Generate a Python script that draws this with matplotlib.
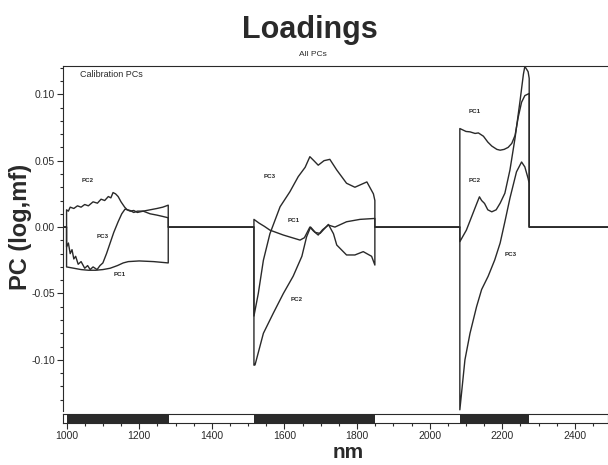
import matplotlib
matplotlib.use("Agg")
import matplotlib.pyplot as plt
from matplotlib.ticker import MultipleLocator, FormatStrFormatter

# loadings, (nm, value) per selected region
pc1_seg1 = [(1000, -0.030), (1020, -0.031), (1040, -0.032), (1060, -0.0325), (1080, -0.0325),
            (1100, -0.032), (1120, -0.031), (1140, -0.029), (1156, -0.027), (1170, -0.026),
            (1200, -0.0255), (1240, -0.026), (1280, -0.027)]
pc2_seg1 = [(1000, 0.013), (1005, 0.012), (1010, 0.015), (1020, 0.014), (1030, 0.016), (1040, 0.015),
            (1050, 0.017), (1060, 0.016), (1073, 0.019), (1085, 0.018), (1095, 0.021), (1105, 0.020),
            (1115, 0.023), (1122, 0.022), (1128, 0.026), (1135, 0.025), (1142, 0.023), (1150, 0.019),
            (1160, 0.015), (1167, 0.013), (1175, 0.012), (1185, 0.0125), (1195, 0.011), (1211, 0.012),
            (1230, 0.010), (1249, 0.009), (1265, 0.008), (1280, 0.007)]
pc3_seg1 = [(1000, -0.015), (1005, -0.012), (1010, -0.020), (1015, -0.017), (1020, -0.024),
            (1025, -0.022), (1032, -0.028), (1040, -0.026), (1050, -0.031), (1058, -0.029),
            (1065, -0.032), (1073, -0.030), (1084, -0.032), (1092, -0.029), (1100, -0.027),
            (1110, -0.020), (1120, -0.012), (1130, -0.004), (1142, 0.004), (1152, 0.010),
            (1161, 0.0135), (1168, 0.013), (1175, 0.0125), (1185, 0.011), (1195, 0.012),
            (1211, 0.012), (1230, 0.013), (1249, 0.014), (1265, 0.015), (1280, 0.0165)]

pc1_seg2 = [(1516, 0.0058), (1530, 0.003), (1545, 0.0005), (1560, -0.0023), (1597, -0.006),
            (1643, -0.0098), (1655, -0.008), (1661, -0.0048), (1670, 0.0), (1680, -0.003),
            (1693, -0.006), (1705, -0.002), (1721, 0.0015), (1739, 0.0), (1771, 0.004),
            (1808, 0.0058), (1849, 0.0065)]
pc2_seg2 = [(1516, -0.104), (1519, -0.1038), (1542, -0.080), (1569, -0.065), (1597, -0.050),
            (1624, -0.037), (1648, -0.022), (1661, -0.0073), (1672, 0.0), (1685, -0.004),
            (1698, -0.0048), (1721, 0.002), (1735, -0.005), (1744, -0.0135), (1771, -0.021),
            (1794, -0.021), (1817, -0.0185), (1840, -0.022), (1849, -0.0286)]
pc3_seg2 = [(1516, -0.067), (1528, -0.050), (1542, -0.025), (1560, -0.005), (1588, 0.0153),
            (1615, 0.0266), (1638, 0.038), (1657, 0.045), (1670, 0.053), (1681, 0.050),
            (1693, 0.0466), (1709, 0.050), (1725, 0.051), (1744, 0.043), (1771, 0.033),
            (1794, 0.030), (1827, 0.034), (1845, 0.025), (1849, 0.020)]

pc1_seg3 = [(2083, 0.0742), (2100, 0.072), (2111, 0.0717), (2125, 0.0705), (2134, 0.0709),
            (2148, 0.0684), (2160, 0.064), (2171, 0.061), (2185, 0.0585), (2194, 0.0579),
            (2205, 0.0585), (2216, 0.060), (2226, 0.063), (2235, 0.069), (2244, 0.083),
            (2253, 0.094), (2262, 0.099), (2274, 0.1006)]
pc2_seg3 = [(2083, -0.011), (2101, -0.0023), (2119, 0.0103), (2130, 0.018), (2137, 0.0228),
            (2143, 0.020), (2151, 0.0178), (2160, 0.013), (2171, 0.0115), (2183, 0.013),
            (2194, 0.018), (2207, 0.0255), (2221, 0.043), (2235, 0.067), (2249, 0.0955),
            (2258, 0.115), (2262, 0.121), (2271, 0.117), (2274, 0.112)]
pc3_seg3 = [(2083, -0.1376), (2097, -0.100), (2111, -0.080), (2129, -0.060), (2143, -0.047),
            (2161, -0.037), (2179, -0.0248), (2194, -0.012), (2207, 0.004), (2221, 0.0218),
            (2239, 0.0416), (2253, 0.049), (2262, 0.0453), (2271, 0.0366), (2274, 0.0329)]

regions = [(1000, 1282), (1516, 1848), (2083, 2274)]

curve_labels = ["PC2", "PC3", "PC1", "PC3", "PC1", "PC2", "PC1", "PC2", "PC3"]
label_nm = [1059, 1100, 1147, 1558, 1626, 1634, 2125, 2125, 2224]
label_val = [0.0353, -0.0068, -0.036, 0.0383, 0.0053, -0.0549, 0.0872, 0.0353, -0.021]

xmin, xmax = 991.5, 2491
ink = "#2a2a2a"

plt.rcParams["font.family"] = ["Liberation Sans Narrow", "Liberation Sans", "DejaVu Sans"]

fig = plt.figure(figsize=(6.08, 4.65), dpi=100)
ax = fig.add_axes([0.1044, 0.1161, 0.8956, 0.742])
strip = fig.add_axes([0.1044, 0.0903, 0.8956, 0.0194], sharex=ax)


def full_curve(segs):
    # zero outside the selected regions, vertical steps at the edges
    xs, ys = [xmin], [0.0]
    for seg in segs:
        xs += [seg[0][0]] + [p[0] for p in seg] + [seg[-1][0]]
        ys += [0.0] + [p[1] for p in seg] + [0.0]
    xs.append(xmax)
    ys.append(0.0)
    return xs, ys


for segs in [(pc1_seg1, pc1_seg2, pc1_seg3),
             (pc2_seg1, pc2_seg2, pc2_seg3),
             (pc3_seg1, pc3_seg2, pc3_seg3)]:
    xs, ys = full_curve(segs)
    ax.plot(xs, ys, color=ink, lw=1.0, solid_joinstyle="round")

for txt, x, y in zip(curve_labels, label_nm, label_val):
    ax.text(x, y, txt, fontsize=4.5, fontweight="bold", color=ink, ha="center", va="center")

ax.set_xlim(xmin, xmax)
ax.set_ylim(-0.1385, 0.1213)
ax.spines["right"].set_visible(False)
ax.spines["bottom"].set_visible(False)
ax.spines["left"].set_color(ink)
ax.spines["top"].set_color(ink)
ax.tick_params(axis="x", which="both", bottom=False, labelbottom=False)
ax.yaxis.set_major_locator(MultipleLocator(0.05))
ax.yaxis.set_minor_locator(MultipleLocator(0.01))
ax.yaxis.set_major_formatter(FormatStrFormatter("%.2f"))
ax.tick_params(axis="y", which="major", direction="out", length=4, width=0.8,
               labelsize=7.5, colors=ink, pad=2)
ax.tick_params(axis="y", which="minor", direction="out", length=2.5, width=0.8, colors=ink)
ax.text(0.03, 0.974, "Calibration PCs", transform=ax.transAxes, fontsize=6.5,
        color=ink, ha="left", va="center")

# region bar under the plot
strip.set_ylim(0, 1)
for a, b in regions:
    strip.broken_barh([(a, b - a)], (0, 1), facecolors=ink)
for s in strip.spines.values():
    s.set_color(ink)
    s.set_linewidth(0.8)
strip.set_yticks([])
strip.xaxis.set_major_locator(MultipleLocator(200))
strip.xaxis.set_minor_locator(MultipleLocator(50))
strip.tick_params(axis="x", which="major", direction="out", length=4, width=0.8,
                  labelsize=7.5, colors=ink, pad=2)
strip.tick_params(axis="x", which="minor", direction="out", length=2.5, width=0.8, colors=ink)

fig.text(0.51, 0.918, "Loadings", fontsize=22, fontweight="bold", color=ink,
         ha="center", va="baseline", family=["Liberation Sans", "DejaVu Sans"])
fig.text(0.515, 0.880, "All PCs", fontsize=6, color=ink, ha="center", va="baseline",
         family=["Liberation Sans", "DejaVu Sans"])
fig.text(0.034, 0.511, "PC (log,mf)", fontsize=17, fontweight="bold", color=ink,
         rotation=90, ha="center", va="center", family=["Liberation Sans", "DejaVu Sans"])
fig.text(0.572, 0.016, "nm", fontsize=15, fontweight="bold", color=ink,
         ha="center", va="baseline", family=["Liberation Sans", "DejaVu Sans"])

fig.savefig("out.png", dpi=100)
